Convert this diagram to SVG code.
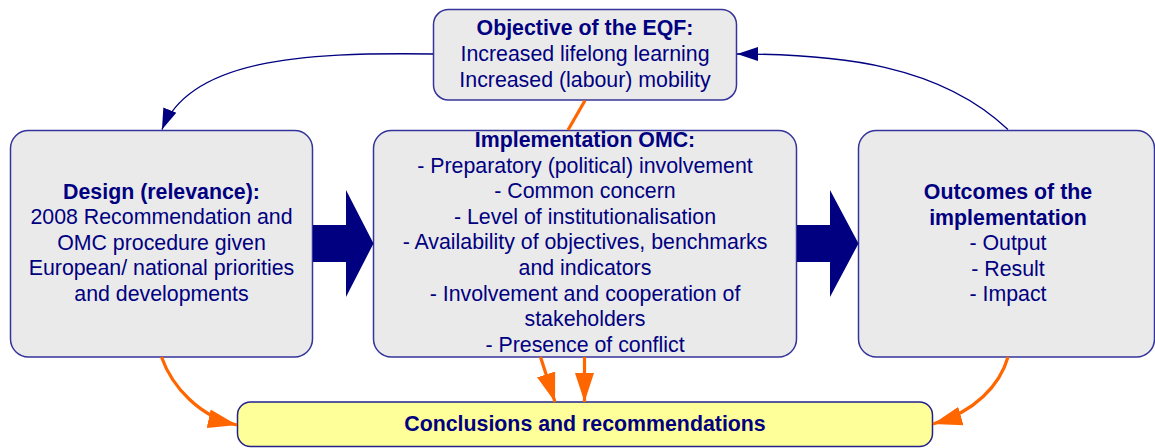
<svg xmlns="http://www.w3.org/2000/svg" width="1155" height="448" viewBox="0 0 1155 448">
<defs>
<style>
.box{fill:#EAEAEA;stroke:#34349A;stroke-width:1.5}
.concl{fill:#FFFF99;stroke:#22228A;stroke-width:1.5}
text{font-family:"Liberation Sans",Arial,sans-serif;font-size:21.33px;fill:#000080;text-anchor:middle}
.b{font-weight:bold}
.blue{fill:none;stroke:#000080;stroke-width:1.3}
.orange{fill:none;stroke:#FF6600;stroke-width:3.2}
.fat{fill:#000080}
</style>
<marker id="ab" markerUnits="userSpaceOnUse" markerWidth="22" markerHeight="16" refX="21" refY="7" orient="auto" viewBox="0 0 22 14">
<path d="M0,0 L21,7 L0,14 z" fill="#000080"/>
</marker>
<marker id="ao" markerUnits="userSpaceOnUse" markerWidth="30" markerHeight="20" refX="29" refY="9.5" orient="auto" viewBox="0 0 30 19">
<path d="M0,0 L29,9.5 L0,19 z" fill="#FF6600"/>
</marker>
</defs>

<g id="objective">
<rect class="box" x="433.5" y="9.5" width="303" height="90.5" rx="15"/>
<text class="b" x="585" y="35">Objective of the EQF:</text>
<text x="585" y="61">Increased lifelong learning</text>
<text x="585" y="87">Increased (labour) mobility</text>
</g>

<g id="design">
<rect class="box" x="10.5" y="130.5" width="302" height="226.5" rx="18"/>
<text class="b" x="161.5" y="198.5">Design (relevance):</text>
<text x="161.5" y="224">2008 Recommendation and</text>
<text x="161.5" y="249.6">OMC procedure given</text>
<text x="161.5" y="275.2">European/ national priorities</text>
<text x="161.5" y="300.8">and developments</text>
</g>

<g id="implementation">
<rect class="box" x="373.5" y="130.5" width="423" height="226.5" rx="18"/>
<text class="b" x="585" y="147">Implementation OMC:</text>
<text x="585" y="172.6">- Preparatory (political) involvement</text>
<text x="585" y="198.2">- Common concern</text>
<text x="585" y="223.8">- Level of institutionalisation</text>
<text x="585" y="249.4">- Availability of objectives, benchmarks</text>
<text x="585" y="275">and indicators</text>
<text x="585" y="300.6">- Involvement and cooperation of</text>
<text x="585" y="326.2">stakeholders</text>
<text x="585" y="351.8">- Presence of conflict</text>
</g>

<g id="outcomes">
<rect class="box" x="858.5" y="130.5" width="296" height="226.5" rx="18"/>
<text class="b" x="1008" y="199">Outcomes of the</text>
<text class="b" x="1008" y="224.6">implementation</text>
<text x="1008" y="250.2">- Output</text>
<text x="1008" y="275.8">- Result</text>
<text x="1008" y="301.4">- Impact</text>
</g>

<g id="conclusions">
<rect class="concl" x="237.5" y="402" width="695" height="44.5" rx="13"/>
<text class="b" x="585" y="431">Conclusions and recommendations</text>
</g>

<g id="connectors">
<path class="fat" d="M313,225 L346,225 L346,190 L373.5,243.5 L346,297 L346,262 L313,262 z"/>
<path class="fat" d="M797,225 L830,225 L830,190 L858.5,243.5 L830,297 L830,262 L797,262 z"/>
<path class="blue" d="M433,54 C300,52 190,60 162,129.5" marker-end="url(#ab)"/>
<path class="blue" d="M1008,129.5 C940,65 840,54 737,54" marker-end="url(#ab)"/>
<path class="orange" d="M585,100.5 L568,130"/>
<path class="orange" d="M161.5,357 C172,387 200,417 237,425" marker-end="url(#ao)"/>
<path class="orange" d="M540.5,357 L555,402" marker-end="url(#ao)"/>
<path class="orange" d="M584.5,357 L584.5,402" marker-end="url(#ao)"/>
<path class="orange" d="M1008,357 C1000,385 975,412 933,424" marker-end="url(#ao)"/>
</g>
</svg>
